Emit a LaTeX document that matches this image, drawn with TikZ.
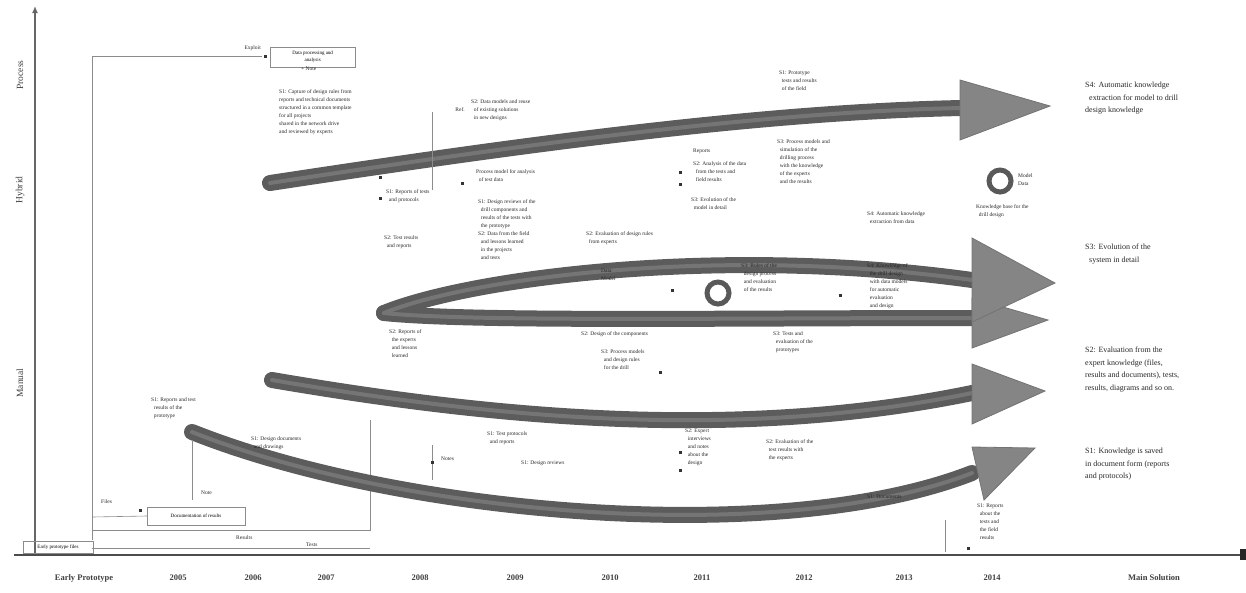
\documentclass[tikz,border=0pt]{standalone}
\usepackage{fontspec}
\setmainfont{Liberation Serif}
\usetikzlibrary{arrows.meta, positioning}

\begin{document}
\begin{tikzpicture}[
x=1pt, y=-1pt,
font=\small,
band/.style={line width=16pt, draw=black!64, line cap=round},
bandcore/.style={line width=4pt, draw=black!54, line cap=round},
head/.style={fill=black!48, draw=black!55, line width=0.8pt},
note/.style={font=\fontsize{5.5}{8}\selectfont, align=left, text=black!85, anchor=north west, inner sep=1pt},
slabel/.style={font=\fontsize{8}{12.5}\selectfont, align=left, anchor=north west, inner sep=0pt, text=black!85},
year/.style={font=\fontsize{8.5}{10}\selectfont\bfseries, text=black!75},
phase/.style={font=\fontsize{9.5}{10}\selectfont, rotate=90, text=black!75},
box/.style={draw=black!45, font=\fontsize{5}{6.5}\selectfont, align=center, inner sep=2pt},
link/.style={draw=black!45, line width=0.6pt},
dot/.style={fill=black!80, minimum size=3pt, inner sep=0pt},
ring/.style={draw=black!65, line width=5pt, circle, minimum size=22pt, inner sep=0pt}
]
\useasboundingbox (0,0) rectangle (1246,592);

% axes
\coordinate (origin) at (35,555);
\coordinate (ytop) at (35,6);
\coordinate (xstart) at (14,555);
\coordinate (xend) at (1244,555);
\draw[line width=2pt, black!60, -{Latex[length=7pt,width=6pt]}] (origin) -- (ytop);
\draw[line width=2.5pt, black!70] (xstart) -- (xend);
\fill[black!85] (1240,549) rectangle (1246,560);

\node[phase] (process) at (20,75) {Process};
\node[phase] (hybrid) at (20,190) {Hybrid};
\node[phase] (manual) at (20,383) {Manual};

\node[year] (early) at (84,578) {Early Prototype};
\foreach \yr/\px in {2005/178, 2006/253, 2007/326, 2008/420, 2009/515,
                     2010/610, 2011/702, 2012/804, 2013/904, 2014/992}
  \node[year] (y\yr) at (\px,578) {\yr};
\node[year] (mainsol) at (1154,578) {Main Solution};

% early prototype frame
\node[box, minimum width=70pt, minimum height=12pt] (proto) at (58,547) {Early prototype files};
\node[box, minimum width=98pt, minimum height=18pt] (doc) at (196,516) {Documentation of results};
\coordinate (left1) at (92,56);
\coordinate (left2) at (92,540);
\draw[link] (left2) -- (left1) -- (262,56);
\node[box, minimum width=85pt, minimum height=20pt, anchor=west] (dataproc) at (270,57) {Data processing and\\ analysis};
\node[dot] at (265,56) {};
\node[note, anchor=east] (exploit) at (262,48) {Exploit};
\node[note] (n0) at (300,66) {+ Note};
\draw[link] (92,517) -- (doc.west);
\draw[link] (92,530) -- (370,530) -- (370,420);
\draw[link] (92,548) -- (370,548);
\node[note] (bl1) at (235,534) {Results};
\node[note] (bl2) at (305,542) {Tests};
\node[note] (bl3) at (100,498) {Files};
\node[dot] at (140,510) {};

% ---- arrow 1 (process)
\coordinate (a1s) at (270,183);
\coordinate (a1e) at (962,108);
\draw[band] (a1s) .. controls (520,145) and (760,112) .. (a1e);
\draw[bandcore] (a1s) .. controls (520,145) and (760,112) .. (a1e);
\filldraw[head] (960,80) -- (1050,106) -- (960,140) -- cycle;

% ---- arrow 2 (hybrid, two branches from one tail)
\coordinate (a2a) at (972,280);
\coordinate (a2m) at (384,313);
\coordinate (a2b) at (972,318);
\draw[band] (a2m) .. controls (470,278) and (720,245) .. (a2a);
\draw[band] (a2m) .. controls (470,322) and (720,318) .. (a2b);
\draw[bandcore] (a2m) .. controls (470,278) and (720,245) .. (a2a);
\draw[bandcore] (a2m) .. controls (470,322) and (720,318) .. (a2b);
\filldraw[head] (972,298) -- (1048,320) -- (972,348) -- cycle;
\filldraw[head] (972,238) -- (1055,283) -- (972,322) -- cycle;

% ---- arrow 3 (manual, upper)
\coordinate (a3s) at (272,380);
\coordinate (a3e) at (972,393);
\draw[band] (a3s) .. controls (460,412) and (720,445) .. (a3e);
\draw[bandcore] (a3s) .. controls (460,412) and (720,445) .. (a3e);
\filldraw[head] (972,364) -- (1045,391) -- (972,424) -- cycle;

% ---- arrow 4 (manual, lower)
\coordinate (a4s) at (192,432);
\coordinate (a4e) at (972,473);
\draw[band] (a4s) .. controls (400,515) and (780,548) .. (a4e);
\draw[bandcore] (a4s) .. controls (400,515) and (780,548) .. (a4e);
\filldraw[head] (972,447) -- (1035,448) -- (984,500) -- cycle;

% rings
\node[ring] (ring1) at (1000,181) {};
\node[ring] (ring2) at (718,293) {};

% phase goals
\node[slabel] (s4) at (1085,82) {S4: Automatic knowledge\\ \ \ extraction for model to drill\\ design knowledge};
\node[slabel] (s3) at (1085,244) {S3: Evolution of the\\ \ \ system in detail};
\node[slabel] (s2) at (1085,347) {S2: Evaluation from the\\ expert knowledge (files,\\ results and documents), tests,\\ results, diagrams and so on.};
\node[slabel] (s1) at (1085,448) {S1: Knowledge is saved\\ in document form (reports\\ and protocols)};

% notes along arrow 1
\node[note] (n1) at (278,88) {S1: Capture of design rules from\\ reports and technical documents\\ structured in a common template\\ for all projects\\ shared in the network drive\\ and reviewed by experts};
\node[note] (n2) at (470,98) {S2: Data models and reuse\\ \ \ of existing solutions\\ \ \ in new designs};
\node[note, anchor=east] (n2l) at (466,110) {Ref.};
\draw[link] (432,112) -- (432,190);
\node[note] (n3) at (475,168) {Process model for analysis\\ \ \ of test data};
\node[note] (n4) at (385,188) {S1: Reports of tests\\ \ \ and protocols};
\node[dot] at (380,177) {};
\node[dot] at (380,198) {};
\node[dot] at (462,183) {};
\node[note] (n5) at (477,198) {S1: Design reviews of the\\ \ \ drill components and\\ \ \ results of the tests with\\ \ \ the prototype\\ S2: Data from the field\\ \ \ and lessons learned\\ \ \ in the projects\\ \ \ and tests};
\node[note] (n6) at (692,148) {Reports};
\node[note] (n7) at (692,160) {S2: Analysis of the data\\ \ \ from the tests and\\ \ \ field results};
\node[dot] at (680,172) {};
\node[dot] at (680,184) {};
\node[note] (n8) at (690,196) {S3: Evolution of the\\ \ \ model in detail};
\node[note] (n9) at (778,70) {S1: Prototype\\ \ \ tests and results\\ \ \ of the field};
\node[note] (n10) at (776,138) {S3: Process models and\\ \ \ simulation of the\\ \ \ drilling process\\ \ \ with the knowledge\\ \ \ of the experts\\ \ \ and the results};
\node[note] (n11) at (866,210) {S4: Automatic knowledge\\ \ \ extraction from data};
\node[note] (n12) at (1017,172) {Model\\ Data};
\node[note] (n13) at (975,203) {Knowledge base for the\\ \ \ drill design};

% notes along arrow 2
\node[note] (n14) at (383,234) {S2: Test results\\ \ \ and reports};
\node[note] (n15) at (585,230) {S2: Evaluation of design rules\\ \ \ from experts};
\node[note] (n16) at (600,268) {Data\\ Model};
\node[dot] at (672,290) {};
\node[note] (n17) at (740,262) {S3: Rules of the\\ \ \ design process\\ \ \ and evaluation\\ \ \ of the results};
\node[dot] at (840,295) {};
\node[note] (n18) at (866,262) {S4: Knowledge of\\ \ \ the drill design\\ \ \ with data models\\ \ \ for automatic\\ \ \ evaluation\\ \ \ and design};
\node[note] (n19) at (388,328) {S2: Reports of\\ \ \ the experts\\ \ \ and lessons\\ \ \ learned};
\node[note] (n20) at (580,330) {S2: Design of the components};
\node[note] (n21) at (600,348) {S3: Process models\\ \ \ and design rules\\ \ \ for the drill};
\node[dot] at (660,372) {};
\node[note] (n22) at (772,330) {S3: Tests and\\ \ \ evaluation of the\\ \ \ prototypes};

% notes along arrows 3 and 4
\node[note] (n23) at (150,396) {S1: Reports and test\\ \ \ results of the\\ \ \ prototype};
\node[note] (n24) at (250,435) {S1: Design documents\\ \ \ and drawings};
\draw[link] (192,440) -- (192,500);
\node[note] (n25) at (200,490) {Note};
\draw[link] (432,445) -- (432,480);
\node[dot] at (432,462) {};
\node[note] (n26) at (440,456) {Notes};
\node[note] (n27) at (486,430) {S1: Test protocols\\ \ \ and reports};
\node[note] (n28) at (520,460) {S1: Design reviews};
\node[note] (n29) at (684,428) {S2: Expert\\ \ \ interviews\\ \ \ and notes\\ \ \ about the\\ \ \ design};
\node[dot] at (680,452) {};
\node[dot] at (680,470) {};
\node[note] (n30) at (765,438) {S2: Evaluation of the\\ \ \ test results with\\ \ \ the experts};
\node[note] (n31) at (866,494) {S1: Documents};
\node[note] (n32) at (976,503) {S1: Reports\\ \ \ about the\\ \ \ tests and\\ \ \ the field\\ \ \ results};
\draw[link] (945,520) -- (945,552);
\node[dot] at (968,548) {};
\end{tikzpicture}
\end{document}
